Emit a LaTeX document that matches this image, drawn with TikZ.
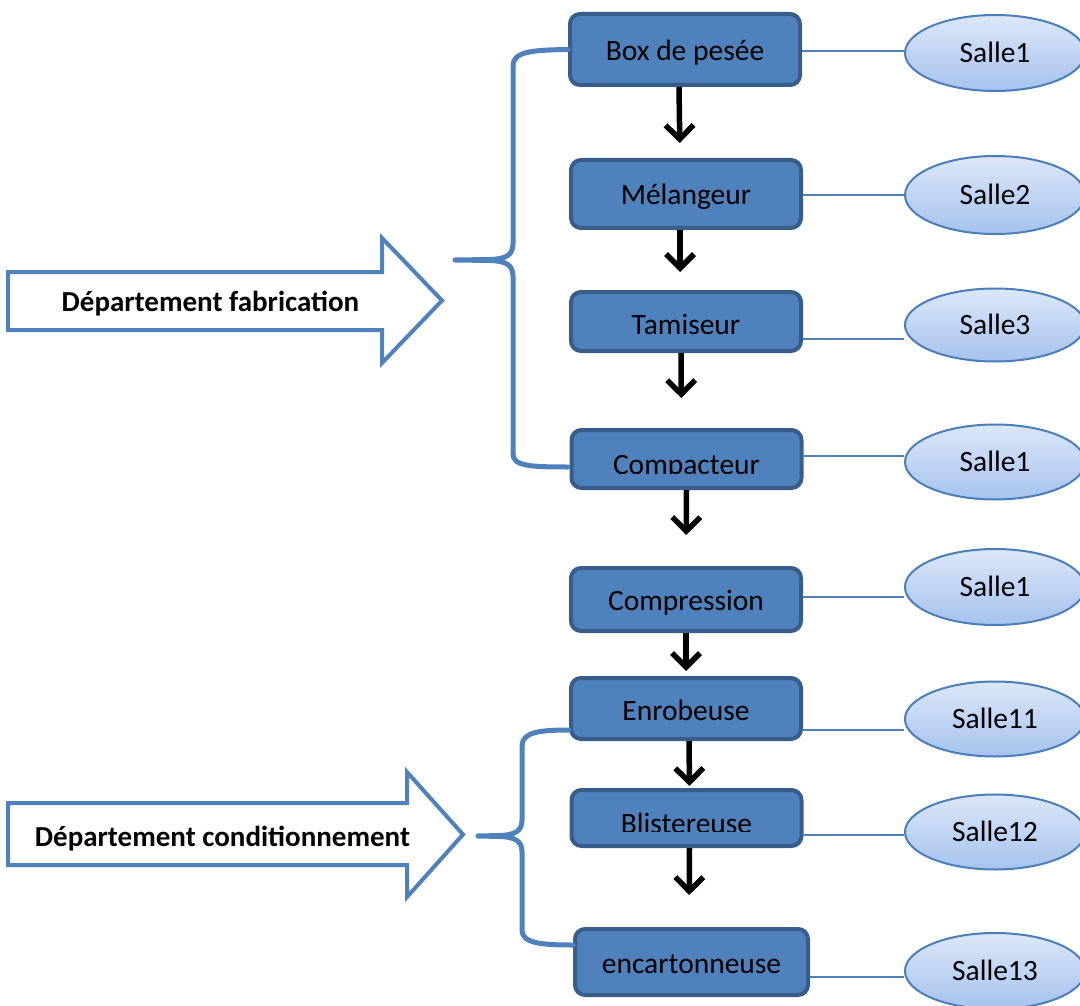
\documentclass[tikz,border=0pt]{standalone}
\usepackage{fontspec}
\setmainfont{Carlito}
\usetikzlibrary{arrows.meta,shapes.geometric}
\definecolor{boxfill}{HTML}{4F81BD}
\definecolor{boxedge}{HTML}{385D8A}
\definecolor{accent}{HTML}{4F81BD}
\definecolor{roomtop}{HTML}{DCE7F8}
\definecolor{roombot}{HTML}{A6C2EE}
\definecolor{roomedge}{HTML}{4A7EBB}
\pgfdeclarelayer{back}
\pgfsetlayers{back,main}

\begin{document}
\begin{tikzpicture}[x=1pt,y=-1pt,
  stage/.style={draw=boxedge, line width=4pt, fill=boxfill, rounded corners=10pt,
    minimum width=230pt, inner sep=0pt, font=\fontsize{29.5}{34}\selectfont, text depth=0pt},
  stagetext/.style={inner sep=0pt, font=\fontsize{29.5}{34}\selectfont},
  room/.style={ellipse, draw=roomedge, line width=2pt, top color=roomtop, bottom color=roombot,
    minimum width=180pt, minimum height=76pt, inner sep=0pt,
    font=\fontsize{29.5}{34}\selectfont, text height=19pt, text depth=0pt},
  link/.style={draw=accent, line width=1.6pt},
  flow/.style={draw=black, line width=5.5pt, -{Straight Barb[length=14pt,width=28pt]}},
  brace/.style={draw=accent, line width=5pt, line cap=round, line join=round},
  dept/.style={draw=accent, line width=4pt, fill=white, line join=miter},
  depttext/.style={inner sep=0pt, font=\fontsize{29}{34}\selectfont\bfseries,
    text height=19pt, text depth=0pt}]

\useasboundingbox (0,0) rectangle (1080,1006);
\clip (0,0) rectangle (1080,1006);

% process stages
\node[stage, minimum height=71pt, text height=23pt] (b1) at (685,49.5) {Box de pesée};
\node[stage, minimum height=68pt, text height=21pt] (b2) at (686,194) {Mélangeur};
\node[stage, minimum height=59pt, text height=26pt] (b3) at (686,321.5) {Tamiseur};
\node[stage, minimum height=58pt] (b4) at (686.5,459) {};
\node[stage, minimum height=63pt, text height=22pt] (b5) at (686,599.5) {Compression};
\node[stage, minimum height=61pt, text height=24pt] (b6) at (686,708.5) {Enrobeuse};
\node[stage, minimum height=56pt] (b7) at (686.5,818) {};
\node[stage, minimum width=233pt, minimum height=66pt, text height=22pt] (b8) at (691.5,962) {encartonneuse};

% labels cut off at the lower part of their boxes
\begin{scope}
  \clip (570,432) rectangle (803,473);
  \node[stagetext, anchor=base] (t4) at (686.5,474.5) {Compacteur};
\end{scope}
\begin{scope}
  \clip (570,792) rectangle (803,831.5);
  \node[stagetext, anchor=base] (t7) at (686.5,833.5) {Blistereuse};
\end{scope}

% rooms
\node[room] (s1) at (995,53) {Salle1};
\node[room, minimum height=78pt] (s2) at (995,195) {Salle2};
\node[room, minimum height=73pt] (s3) at (995,325) {Salle3};
\node[room, minimum height=75pt] (s4) at (995,462) {Salle1};
\node[room] (s5) at (995,587) {Salle1};
\node[room, minimum height=75pt] (s6) at (995,719) {Salle11};
\node[room, minimum height=75pt] (s7) at (995,832) {Salle12};
\node[room] (s8) at (995,971) {Salle13};

% links between stages and rooms
\begin{pgfonlayer}{back}
  \draw[link] (b1.east |- 0,51)  -- (s1.west |- 0,51);
  \draw[link] (b2.east |- 0,195) -- (s2.west |- 0,195);
  \draw[link] (b3.east |- 0,339) -- (s3.west |- 0,339);
  \draw[link] (b4.east |- 0,456) -- (s4.west |- 0,456);
  \draw[link] (b5.east |- 0,597) -- (s5.west |- 0,597);
  \draw[link] (b6.east |- 0,730) -- (s6.west |- 0,730);
  \draw[link] (b7.east |- 0,835) -- (s7.west |- 0,835);
  \draw[link] (b8.east |- 0,977) -- (s8.west |- 0,977);
\end{pgfonlayer}

% process flow
\draw[flow, shorten >=15pt] ([xshift=-6pt]b1.south) -- ([xshift=-6pt]b2.north);
\draw[flow, shorten >=18pt] ([xshift=-6pt]b2.south) -- ([xshift=-6pt]b3.north);
\draw[flow, shorten >=30pt] ([xshift=-5pt]b3.south) -- ([xshift=-5pt]b4.north);
\draw[flow, shorten >=31pt] ([xshift=0pt]b4.south) -- ([xshift=0pt]b5.north);
\draw[flow, shorten >=5pt]  ([xshift=0pt]b5.south) -- ([xshift=0pt]b6.north);
\draw[flow, shorten >=2pt]  ([xshift=3pt]b6.south) -- ([xshift=3pt]b7.north);
\draw[flow, shorten >=32pt] ([xshift=3pt]b7.south) -- ([xshift=-2.5pt]b8.north);

% braces grouping the stages
\coordinate (f) at (455,260);
\coordinate (c) at (478,836);
\draw[brace] (b1.west) .. controls (530,50) and (513,52) .. (513,66)
  -- (513,244) .. controls (513,255) and (506,259) .. (490,259.5) -- (f)
  -- (490,260.5) .. controls (506,261) and (513,265) .. (513,276)
  -- (513,454) .. controls (513,466) and (530,467) .. (568,467);
\draw[brace] (b6.west |- 0,730) .. controls (540,730) and (522,732) .. (522,746)
  -- (522,820) .. controls (522,831) and (515,835) .. (500,835.5) -- (c)
  -- (500,836.5) .. controls (515,837) and (522,841) .. (522,852)
  -- (522,930) .. controls (522,943) and (540,945) .. (b8.west |- 0,945);

% departments
\draw[dept] (8,272) -- (382,272) -- (382,238) -- (442,300.5) -- (382,363)
  -- (382,330) -- (8,330) -- cycle;
\node[depttext] (d1) at (210.5,302) {Département fabrication};
\draw[dept] (8,803) -- (407,803) -- (407,772) -- (463,834.5) -- (407,897)
  -- (407,865) -- (8,865) -- cycle;
\node[depttext] (d2) at (222.5,837) {Département conditionnement};

\end{tikzpicture}
\end{document}
